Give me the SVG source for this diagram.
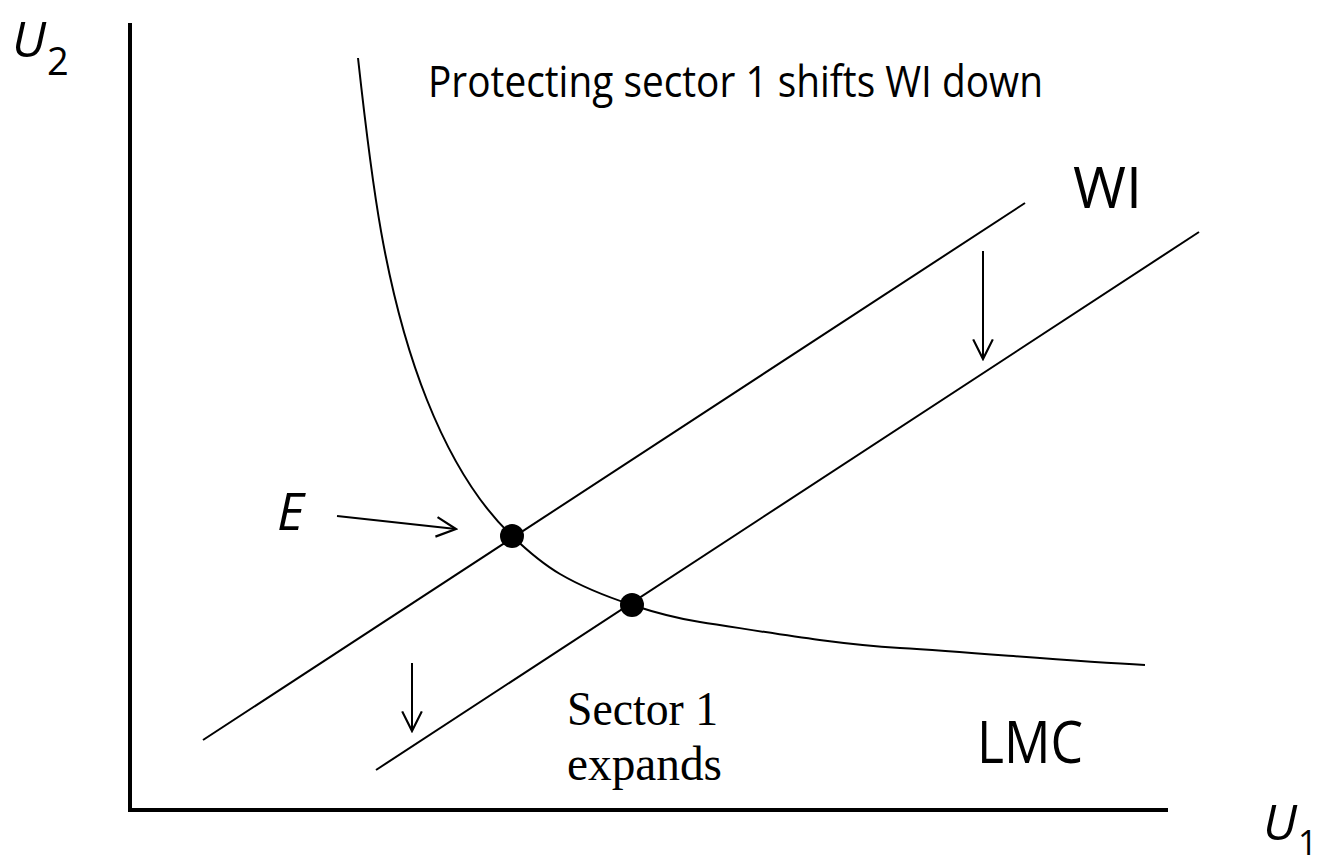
<svg xmlns="http://www.w3.org/2000/svg" width="1326" height="865" viewBox="0 0 1326 865">
<defs>
<style>
.ax{stroke:#000;stroke-width:4;fill:none}
.ln{stroke:#000;stroke-width:2;fill:none}
.arr{stroke:#000;stroke-width:2;fill:none;marker-end:url(#head)}
.sans{font-family:"Open Sans","Noto Sans","Liberation Sans",sans-serif;fill:#000}
.serif{font-family:"Liberation Serif","Times New Roman",serif;fill:#000}
.it{font-style:italic}
</style>
<marker id="head" markerUnits="userSpaceOnUse" markerWidth="24" markerHeight="24" viewBox="-20 -11 22 22" refX="0" refY="0" orient="auto">
<path d="M-18,-9 L0,0 L-18,9" stroke="#000" stroke-width="2" fill="none"/>
</marker>
</defs>
<rect width="1326" height="865" fill="#fff"/>
<g id="axes">
<line class="ax" x1="130" y1="23" x2="130" y2="810"/>
<line class="ax" x1="128" y1="810" x2="1168" y2="810"/>
</g>
<g id="axis-labels">
<text class="sans it" x="12" y="57" font-size="50">U</text>
<text class="sans" x="47" y="75" font-size="38">2</text>
<text class="sans it" x="1263" y="840" font-size="50">U</text>
<text class="sans" x="1298" y="855" font-size="34">1</text>
</g>
<g id="curves">
<path id="LMC-curve" class="ln" d="M358,58 C370.7,173.3 384,292.3 427,400 C446.8,449.6 473.3,499.1 512,536 C526.8,550.1 542.4,563.7 560,574 C582.5,587.2 607.2,596.8 632,605 C654.2,612.3 676.9,618.5 700,622 C766.5,632 832.9,644 900,648 C981.8,652.9 1063.2,660.9 1145,665"/>
<line id="WI-1" class="ln" x1="203" y1="740" x2="1025" y2="203"/>
<line id="WI-2" class="ln" x1="376" y1="770" x2="1199" y2="232"/>
</g>
<g id="connectors">
<line class="arr" x1="337" y1="516" x2="456" y2="529"/>
<line class="arr" x1="412" y1="663" x2="412" y2="731"/>
<line class="arr" x1="983" y1="251" x2="983" y2="359"/>
</g>
<g id="E-point">
<circle cx="512" cy="536" r="12" fill="#000"/>
<text class="sans it" x="277" y="530" font-size="52">E</text>
</g>
<g id="new-point">
<circle cx="632" cy="605" r="12" fill="#000"/>
</g>
<g id="title">
<text class="sans" x="428" y="97" font-size="43" textLength="615" lengthAdjust="spacingAndGlyphs">Protecting sector 1 shifts WI down</text>
</g>
<g id="WI-label">
<text class="sans" x="1073" y="208" font-size="56" textLength="69" lengthAdjust="spacingAndGlyphs">WI</text>
</g>
<g id="LMC-label">
<text class="sans" x="977" y="763" font-size="58" textLength="106" lengthAdjust="spacingAndGlyphs">LMC</text>
</g>
<g id="sector-label">
<text class="serif" x="567" y="725" font-size="48" textLength="151" lengthAdjust="spacingAndGlyphs">Sector 1</text>
<text class="serif" x="567" y="780" font-size="48" textLength="155" lengthAdjust="spacingAndGlyphs">expands</text>
</g>
</svg>
